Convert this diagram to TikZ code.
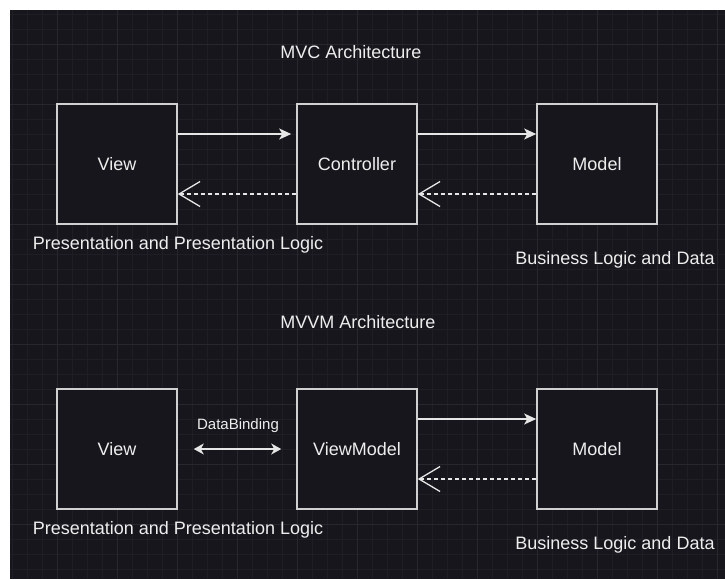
\documentclass[tikz,border=0pt]{standalone}
\usepackage{fontspec}
\setmainfont{Liberation Sans}
\usetikzlibrary{arrows.meta}

\definecolor{bgdark}{HTML}{17161C}
\definecolor{gridminor}{HTML}{1F1E25}
\definecolor{gridmajor}{HTML}{28272E}
\definecolor{boxline}{HTML}{D0D0D0}
\definecolor{linecol}{HTML}{E6E6E6}
\definecolor{txt}{HTML}{EEEEEE}

\tikzset{
  box/.style={draw=boxline, fill=bgdark, line width=1.6pt, minimum width=120pt, minimum height=120pt, text=txt, font=\fontsize{18}{21}\selectfont},
  caption/.style={text=txt, font=\fontsize{18}{21}\selectfont, inner sep=0pt},
  small/.style={text=txt, font=\fontsize{15}{18}\selectfont, inner sep=0pt},
  flow/.style={draw=linecol, line width=1.5pt, -{Stealth[length=12pt,width=11pt,inset=3pt]}},
  back/.style={draw=linecol, line width=1.5pt, dash pattern=on 4pt off 3pt, -{Straight Barb[length=21pt,width=25pt,line width=1.3pt]}},
  bind/.style={draw=linecol, line width=1.5pt, {Stealth[length=10pt,width=11pt,inset=3pt]}-{Stealth[length=10pt,width=11pt,inset=3pt]}}
}

\begin{document}
\begin{tikzpicture}[x=1pt,y=-1pt]

\useasboundingbox (0,0) rectangle (725,579);
\fill[white] (0,0) rectangle (725,579);
\fill[bgdark] (10,10) rectangle (725,579);

\foreach \gx in {12,27,...,717} \draw[gridminor, line width=0.8pt] (\gx,10) -- (\gx,579);
\foreach \gy in {14,29,...,569} \draw[gridminor, line width=0.8pt] (10,\gy) -- (725,\gy);
\foreach \gx in {57,117,...,717} \draw[gridmajor, line width=0.8pt] (\gx,10) -- (\gx,579);
\foreach \gy in {44,104,...,524} \draw[gridmajor, line width=0.8pt] (10,\gy) -- (725,\gy);

\node[caption] (mvctitle) at (351,52) {MVC Architecture};

\node[box] (view) at (117,164) {View};
\node[box] (controller) at (357,164) {Controller};
\node[box] (model) at (597,164) {Model};

\node[caption] (viewnote) at (178,245) {Presentation and Presentation Logic};
\node[caption] (modelnote) at (615,260) {Business Logic and Data};

\draw[flow, shorten >=5pt] ([yshift=30pt]view.east) -- ([yshift=30pt]controller.west);
\draw[back] ([yshift=-30pt]controller.west) -- ([yshift=-30pt]view.east);
\draw[flow] ([yshift=30pt]controller.east) -- ([yshift=30pt]model.west);
\draw[back] ([yshift=-30pt]model.west) -- ([yshift=-30pt]controller.east);

\node[caption] (mvvmtitle) at (358,322) {MVVM Architecture};

\node[box] (vview) at (117,449) {View};
\node[box] (viewmodel) at (357,449) {ViewModel};
\node[box] (vmodel) at (597,449) {Model};

\node[caption] (vviewnote) at (178,530) {Presentation and Presentation Logic};
\node[caption] (vmodelnote) at (615,545) {Business Logic and Data};

\node[small] (bindlabel) at (238,426) {DataBinding};
\draw[bind, shorten <=16pt, shorten >=15pt] (vview.east) -- (viewmodel.west);
\draw[flow] ([yshift=30pt]viewmodel.east) -- ([yshift=30pt]vmodel.west);
\draw[back] ([yshift=-30pt]vmodel.west) -- ([yshift=-30pt]viewmodel.east);

\end{tikzpicture}
\end{document}
